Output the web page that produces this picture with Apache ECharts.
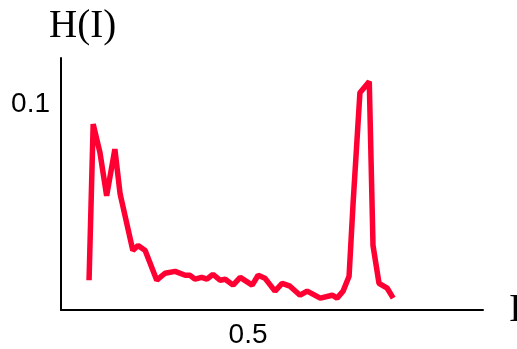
<!DOCTYPE html>
<html><head><meta charset="utf-8">
<script src="https://cdn.jsdelivr.net/npm/echarts@6/dist/echarts.min.js"></script>
<style>html,body{margin:0;padding:0;background:#fff}#c{width:517px;height:349px}</style>
</head><body><div id="c"></div>
<script>
const xValues = [0.075,0.086,0.104,0.122,0.144,0.158,0.192,0.206,0.225,0.256,0.278,0.305,0.332,0.345,0.358,0.376,0.390,0.406,0.425,0.439,0.460,0.479,0.511,0.527,0.545,0.572,0.591,0.612,0.639,0.658,0.693,0.725,0.738,0.754,0.770,0.781,0.799,0.824,0.834,0.850,0.872,0.888];
const hValues = [0.0145,0.0905,0.0768,0.0556,0.0783,0.0565,0.0290,0.0314,0.0290,0.0145,0.0179,0.0188,0.0169,0.0169,0.0150,0.0159,0.0150,0.0174,0.0145,0.0150,0.0121,0.0159,0.0121,0.0169,0.0155,0.0092,0.0130,0.0116,0.0072,0.0092,0.0058,0.0072,0.0058,0.0092,0.0164,0.0527,0.1058,0.1112,0.0314,0.0130,0.0106,0.0058];
const xTickValues = [0.5];
const yTickValues = [0.1];
const yTitle = 'H(I)';
const xTitle = 'I';

const near = (v, list) => list.some(t => Math.abs(v - t) < 1e-9);
const chart = echarts.init(document.getElementById('c'), null, {renderer:'canvas'});
chart.setOption({
  animation:false,
  grid:{left:61,right:34,top:58,bottom:37},
  xAxis:{type:'value',min:0,max:1.128,interval:0.5,
    axisLine:{show:true,onZero:false,lineStyle:{color:'#000',width:2}},
    axisTick:{show:false},splitLine:{show:false},
    axisLabel:{margin:11,fontSize:28,color:'#000',fontFamily:'"Liberation Sans", Arial',
      showMinLabel:true,showMaxLabel:false,
      formatter:v=>near(v,xTickValues)?String(v):''}},
  yAxis:{type:'value',min:0,max:0.1227,interval:0.1,
    axisLine:{show:true,lineStyle:{color:'#000',width:2}},
    axisTick:{show:false},splitLine:{show:false},
    axisLabel:{margin:11,fontSize:28,color:'#000',fontFamily:'"Liberation Sans", Arial',
      showMaxLabel:false,
      formatter:v=>near(v,yTickValues)?String(v):''}},
  graphic:[
    {type:'text',left:49,top:7,style:{text:yTitle,font:'39px "Liberation Serif", "Times New Roman", serif',fill:'#000'}},
    {type:'text',left:509,top:291,style:{text:xTitle,font:'39px "Liberation Serif", "Times New Roman", serif',fill:'#000'}}
  ],
  series:[{type:'line',data:xValues.map((x,i)=>[x,hValues[i]]),showSymbol:false,
    lineStyle:{color:'#ff0033',width:5.5,join:'bevel'},itemStyle:{color:'#ff0033'}}]
});
</script></body></html>
